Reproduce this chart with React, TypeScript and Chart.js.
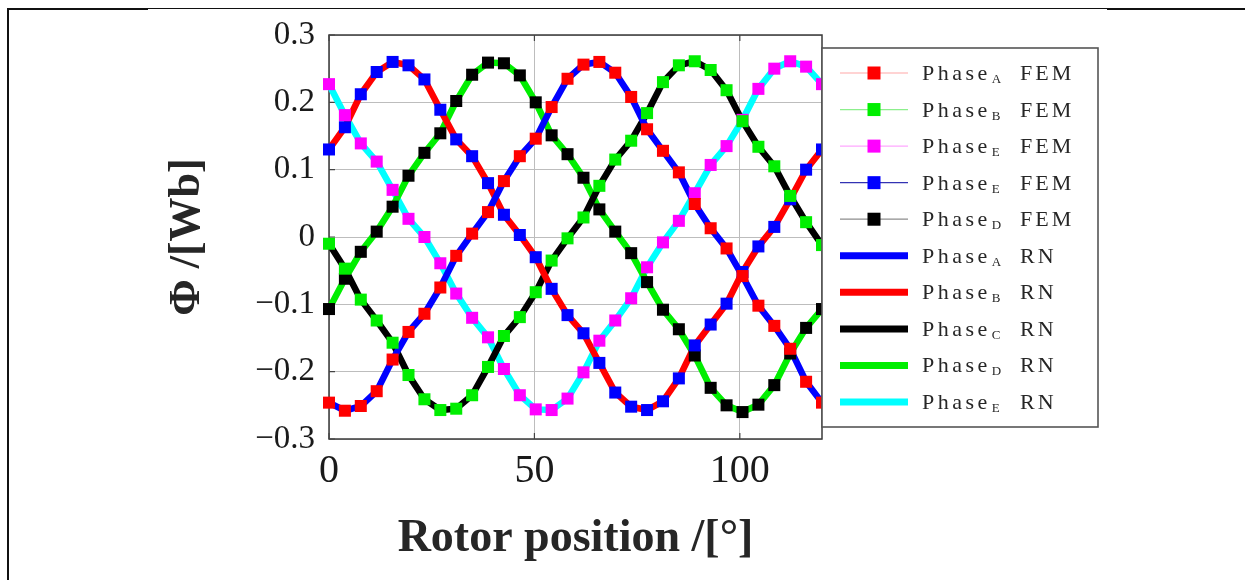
import React, { useEffect, useRef } from "react";
import { Chart, registerables } from "chart.js";

Chart.register(...registerables);

// ---------- data ----------
const rotorPosition = [
  0, 3.87, 7.74, 11.61, 15.48, 19.35, 23.23, 27.1, 30.97, 34.84, 38.71, 42.58,
  46.45, 50.32, 54.19, 58.06, 61.94, 65.81, 69.68, 73.55, 77.42, 81.29, 85.16,
  89.03, 92.9, 96.77, 100.65, 104.52, 108.39, 112.26, 116.13, 120,
];

// red markers (peak ~65°)
const femPhaseA = [
  -0.246, -0.258, -0.251, -0.229, -0.182, -0.141, -0.114, -0.075, -0.028, 0.005,
  0.037, 0.083, 0.12, 0.146, 0.193, 0.235, 0.256, 0.26, 0.244, 0.208, 0.16,
  0.128, 0.096, 0.049, 0.013, -0.017, -0.058, -0.102, -0.132, -0.166, -0.215,
  -0.246,
];
// green markers (peak ~89°)
const femPhaseB = [
  -0.01, -0.047, -0.093, -0.124, -0.157, -0.205, -0.241, -0.257, -0.255, -0.235,
  -0.193, -0.147, -0.119, -0.082, -0.035, -0.002, 0.029, 0.076, 0.115, 0.143,
  0.184, 0.23, 0.255, 0.261, 0.248, 0.218, 0.172, 0.134, 0.105, 0.061, 0.022,
  -0.012,
];
// magenta markers (peak ~113°)
const femPhaseE1 = [
  0.227, 0.181, 0.139, 0.112, 0.07, 0.027, 0.0, -0.039, -0.084, -0.12, -0.149,
  -0.196, -0.235, -0.256, -0.257, -0.24, -0.201, -0.154, -0.124, -0.091, -0.045,
  -0.008, 0.024, 0.065, 0.107, 0.135, 0.174, 0.22, 0.25, 0.261, 0.253, 0.227,
];
// blue markers (peak ~16°)
const femPhaseE2 = [
  0.13, 0.163, 0.212, 0.245, 0.26, 0.255, 0.234, 0.189, 0.145, 0.12, 0.08, 0.033,
  0.003, -0.03, -0.077, -0.116, -0.143, -0.187, -0.231, -0.252, -0.257, -0.244,
  -0.21, -0.161, -0.13, -0.099, -0.052, -0.014, 0.015, 0.056, 0.1, 0.13,
];
// black markers (peak ~40°)
const femPhaseD = [
  -0.107, -0.062, -0.022, 0.008, 0.045, 0.091, 0.125, 0.154, 0.202, 0.241, 0.259,
  0.258, 0.24, 0.2, 0.151, 0.123, 0.088, 0.041, 0.008, -0.024, -0.067, -0.108,
  -0.137, -0.176, -0.224, -0.25, -0.26, -0.249, -0.22, -0.173, -0.135, -0.107,
];

// RN curves coincide with the FEM markers in the figure
const rnPhaseA = femPhaseA;
const rnPhaseB = femPhaseE2;
const rnPhaseC = femPhaseB;
const rnPhaseD = femPhaseD;
const rnPhaseE = femPhaseE1;

const femSeries = [femPhaseA, femPhaseB, femPhaseE1, femPhaseE2, femPhaseD];
const rnSeries = [rnPhaseA, rnPhaseB, rnPhaseC, rnPhaseD, rnPhaseE];
const femSubs = ["A", "B", "E", "E", "D"];
const rnSubs = ["A", "B", "C", "D", "E"];

const xTickValues = [0, 50, 100];
const yTickValues = [-0.3, -0.2, -0.1, 0, 0.1, 0.2, 0.3];
const yTickLabels = ["\u22120.3", "\u22120.2", "\u22120.1", "0", "0.1", "0.2", "0.3"];

// ---------- styles ----------
const femColors = ["#ff0000", "#00ee00", "#ff00ff", "#0000ff", "#000000"];
const femLegendLine = [
  "rgba(255,0,0,0.35)",
  "rgba(0,220,0,0.45)",
  "rgba(255,0,255,0.35)",
  "rgba(0,0,160,0.8)",
  "rgba(0,0,0,0.45)",
];
const rnColors = ["#0000ff", "#ff0000", "#000000", "#00ee00", "#00ffff"];
const FONT = "'Liberation Serif', 'Times New Roman', serif";

const toPoints = (vals: number[]) => rotorPosition.map((x, i) => ({ x, y: vals[i] }));

const framePlugin = {
  id: "frame",
  beforeDatasetsDraw(chart: any) {
    const { ctx, chartArea: a, scales } = chart;
    ctx.save();
    ctx.strokeStyle = "#3a3a3a";
    ctx.lineWidth = 1.5;
    ctx.strokeRect(a.left, a.top, a.right - a.left, a.bottom - a.top);
    ctx.lineWidth = 1.2;
    ctx.strokeStyle = "#444";
    ctx.beginPath();
    xTickValues.forEach((v) => {
      const px = scales.x.getPixelForValue(v);
      ctx.moveTo(px, a.bottom);
      ctx.lineTo(px, a.bottom - 6);
      ctx.moveTo(px, a.top);
      ctx.lineTo(px, a.top + 6);
    });
    yTickValues.forEach((v) => {
      const py = scales.y.getPixelForValue(v);
      ctx.moveTo(a.left, py);
      ctx.lineTo(a.left + 6, py);
    });
    ctx.stroke();
    ctx.restore();
  },
};

const legendPlugin = {
  id: "texLegend",
  afterDraw(chart: any) {
    const { ctx, chartArea } = chart;
    const left = chartArea.right;
    const top = chartArea.top + 13;
    const w = 276;
    const h = 379;
    ctx.save();
    ctx.fillStyle = "#ffffff";
    ctx.fillRect(left, top, w, h);
    ctx.strokeStyle = "#555";
    ctx.lineWidth = 1.6;
    ctx.strokeRect(left, top, w, h);
    const rowH = (h - 50) / 9;
    const x0 = left + 18;
    const x1 = left + 86;
    const textX = left + 100;
    chart.data.datasets.forEach((ds: any, i: number) => {
      const y = top + 25 + i * rowH;
      const isFem = i < 5;
      ctx.lineCap = "butt";
      if (isFem) {
        ctx.strokeStyle = femLegendLine[i];
        ctx.lineWidth = 1.2;
        ctx.beginPath();
        ctx.moveTo(x0, y);
        ctx.lineTo(x1, y);
        ctx.stroke();
        const s = 13;
        ctx.fillStyle = ds.backgroundColor;
        ctx.fillRect((x0 + x1) / 2 - s / 2, y - s / 2, s, s);
      } else {
        ctx.strokeStyle = ds.borderColor;
        ctx.lineWidth = 7;
        ctx.beginPath();
        ctx.moveTo(x0, y);
        ctx.lineTo(x1, y);
        ctx.stroke();
      }
      ctx.fillStyle = "#262626";
      ctx.textBaseline = "alphabetic";
      ctx.textAlign = "left";
      ctx.font = `22px ${FONT}`;
      (ctx as any).letterSpacing = "3.5px";
      ctx.fillText("Phase", textX, y + 7);
      const pw = ctx.measureText("Phase").width;
      (ctx as any).letterSpacing = "0px";
      ctx.font = `13px ${FONT}`;
      ctx.fillText(isFem ? femSubs[i] : rnSubs[i - 5], textX + pw + 1, y + 10);
      ctx.font = `22px ${FONT}`;
      (ctx as any).letterSpacing = "3px";
      ctx.fillText(isFem ? "FEM" : "RN", left + 198, y + 7);
      (ctx as any).letterSpacing = "0px";
    });
    ctx.restore();
  },
};

export default function App() {
  const canvasRef = useRef<HTMLCanvasElement | null>(null);

  useEffect(() => {
    if (!canvasRef.current) return;
    const femDatasets = femSeries.map((vals, i) => ({
      label: `Phase ${femSubs[i]} FEM`,
      data: toPoints(vals),
      showLine: false,
      backgroundColor: femColors[i],
      borderColor: femColors[i],
      pointStyle: "rect",
      pointRadius: 8.5,
      pointBorderWidth: 0,
      clip: false,
    }));
    const rnDatasets = rnSeries.map((vals, i) => ({
      label: `Phase ${rnSubs[i]} RN`,
      data: toPoints(vals),
      borderColor: rnColors[i],
      backgroundColor: rnColors[i],
      borderWidth: 6.5,
      pointRadius: 0,
      tension: 0,
      clip: false,
    }));

    const chart = new Chart(canvasRef.current, {
      type: "line",
      data: { datasets: [...femDatasets, ...rnDatasets] as any },
      options: {
        animation: false,
        responsive: false,
        layout: { padding: { left: 0, right: 423, top: 35, bottom: 0 } },
        plugins: { legend: { display: false }, tooltip: { enabled: false } },
        scales: {
          x: {
            type: "linear",
            min: 0,
            max: 120,
            afterBuildTicks: (s: any) => {
              s.ticks = xTickValues.map((v) => ({ value: v }));
            },
            afterFit: (s: any) => {
              s.height = 141;
            },
            ticks: {
              font: { family: FONT, size: 40 },
              color: "#1a1a1a",
              padding: 8,
              maxRotation: 0,
            },
            grid: { color: "#bdbdbd", lineWidth: 1, drawTicks: false },
            border: { display: false },
            title: {
              display: true,
              text: "Rotor position /[\u00b0]",
              font: { family: FONT, size: 46, weight: "bold" },
              color: "#262626",
              padding: { top: 0, bottom: 13 },
            },
          },
          y: {
            type: "linear",
            min: -0.3,
            max: 0.3,
            afterBuildTicks: (s: any) => {
              s.ticks = yTickValues.map((v) => ({ value: v }));
            },
            afterFit: (s: any) => {
              s.width = 329;
            },
            ticks: {
              font: { family: FONT, size: 33 },
              color: "#1a1a1a",
              padding: 14,
              callback: (_v: any, i: number) => yTickLabels[i],
            },
            grid: { color: "#bdbdbd", lineWidth: 1, drawTicks: false },
            border: { display: false },
            title: {
              display: true,
              text: "\u03a6 /[Wb]",
              font: { family: FONT, size: 44, weight: "bold" },
              color: "#262626",
              padding: { top: 161, bottom: 0 },
            },
          },
        },
      } as any,
      plugins: [framePlugin, legendPlugin],
    });
    return () => chart.destroy();
  }, []);

  return (
    <div
      style={{
        position: "fixed",
        left: 0,
        top: 0,
        width: 1245,
        height: 580,
        background: "#ffffff",
        overflow: "hidden",
      }}
    >
      <canvas
        ref={canvasRef}
        width={1245}
        height={580}
        style={{ display: "block", width: 1245, height: 580 }}
      />
      <div style={{ position: "absolute", left: 7, top: 8, width: 1238, height: 1, background: "#111" }} />
      <div style={{ position: "absolute", left: 7, top: 8, width: 141, height: 2, background: "#111" }} />
      <div style={{ position: "absolute", left: 1107, top: 8, width: 138, height: 2, background: "#111" }} />
      <div style={{ position: "absolute", left: 7, top: 8, width: 2, height: 572, background: "#111" }} />
    </div>
  );
}
